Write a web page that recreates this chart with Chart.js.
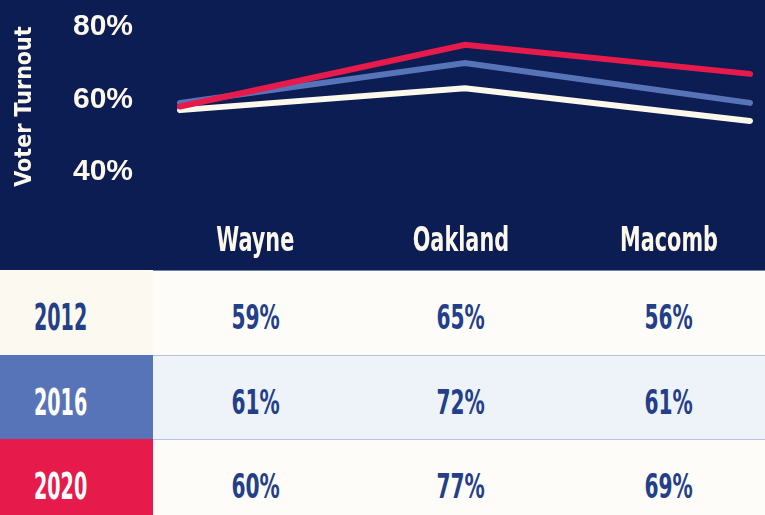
<!DOCTYPE html>
<html>
<head>
<meta charset="utf-8">
<script src="https://cdn.jsdelivr.net/npm/chart.js@4/dist/chart.umd.min.js"></script>
<style>
  html, body { margin: 0; padding: 0; background: #fdfcf8; }
  #wrap { position: relative; width: 765px; height: 515px; overflow: hidden;
          font-family: 'DejaVu Sans Condensed', 'Liberation Sans', sans-serif; font-weight: bold; }
  #top { position: absolute; left: 0; top: 0; width: 765px; height: 270px; background: #0c1d53; }
  #top canvas { position: absolute; left: 0; top: 0; }
  .cell { position: absolute; box-sizing: border-box; }
  .txt { position: absolute; height: 40px; line-height: 40px; text-align: center; white-space: nowrap; }
  .txt span { display: inline-block; transform-origin: center; }
</style>
</head>
<body>
<div id="wrap">
  <div id="top"><canvas id="chart" width="765" height="270"></canvas></div>
  <div id="table"></div>
</div>
<script>
// Turnout by county and election year
const counties = ['Wayne', 'Oakland', 'Macomb'];
const years = ['2012', '2016', '2020'];
const turnout2012 = [59, 65, 56];
const turnout2016 = [61, 72, 61];
const turnout2020 = [60, 77, 69];
const yTickValues = [40, 60, 80];

const series = [turnout2012, turnout2016, turnout2020];
const lineColors = ['#fdf8ec', '#5874b8', '#e71b4b'];
const CREAM = '#fdfcf8';
const TICK_FONT = "'Liberation Sans', Arial, sans-serif";
const COND_FONT = "'DejaVu Sans Condensed', 'Liberation Sans', sans-serif";

new Chart(document.getElementById('chart'), {
  type: 'line',
  data: {
    labels: counties,
    datasets: years.map((y, i) => ({
      label: y,
      data: series[i],
      borderColor: lineColors[i],
      borderWidth: 6,
      borderCapStyle: 'round',
      pointRadius: 0,
      fill: false,
      tension: 0,
      order: years.length - i
    }))
  },
  options: {
    responsive: false,
    animation: false,
    events: [],
    layout: { padding: { top: 34, bottom: 91, left: 0, right: 15 } },
    plugins: { legend: { display: false }, tooltip: { enabled: false } },
    scales: {
      x: { display: false, offset: false },
      y: {
        min: 40, max: 80,
        afterBuildTicks: s => { s.ticks = yTickValues.map(v => ({ value: v })); },
        afterFit: s => { s.width = 180; },
        grid: { display: false, drawTicks: true, tickLength: 40 },
        border: { display: false },
        ticks: {
          color: '#fdf8ec',
          padding: 7,
          labelOffset: -7,
          font: { family: TICK_FONT, size: 30, weight: 'bold' },
          callback: v => v + '%'
        },
        title: {
          display: true,
          text: 'Voter Turnout',
          color: '#fdf8ec',
          padding: { top: 11, bottom: 0 },
          font: { family: COND_FONT, size: 23, weight: 'bold' }
        }
      }
    }
  }
});

// Table beneath the chart
const table = document.getElementById('table');
const rowTops = [270, 355, 439];
const rowHeights = [85, 84, 84];
const colLefts = [153, 358, 563];
const colWidths = [205, 205, 212];
const yearCellBg = ['#fcf9f1', '#5874b8', '#e71b4b'];
const yearTextColor = ['#243f8a', '#ffffff', '#ffffff'];
const valueCellBg = [CREAM, '#eef3fa', CREAM];
const VALUE_COLOR = '#243f8a';

function addBox(x, y, w, h, bg, borderTop) {
  const d = document.createElement('div');
  d.className = 'cell';
  Object.assign(d.style, { left: x + 'px', top: y + 'px', width: w + 'px', height: h + 'px', background: bg });
  if (borderTop) d.style.borderTop = '1px solid ' + borderTop;
  table.appendChild(d);
}
function addText(str, cx, capCenter, w, size, sx, color, parent) {
  const t = document.createElement('div');
  t.className = 'txt';
  Object.assign(t.style, { left: (cx - w / 2) + 'px', top: (capCenter - 20) + 'px', width: w + 'px', fontSize: size + 'px', color });
  const s = document.createElement('span');
  s.textContent = str;
  s.style.transform = 'scaleX(' + sx + ')';
  t.appendChild(s);
  (parent || table).appendChild(t);
}

years.forEach((yr, r) => {
  const top = rowTops[r], h = rowHeights[r];
  addBox(0, top, 153, h, yearCellBg[r]);
  addBox(153, top, 612, h, valueCellBg[r], r === 0 ? '#7282ab' : '#b6c3dd');
  addText(yr, 61, top + 47, 120, 38, 0.56, yearTextColor[r]);
  series[r].forEach((v, c) => {
    addText(v + '%', colLefts[c] + colWidths[c] / 2, top + 47, 180, 34, 0.66, VALUE_COLOR);
  });
});

// County headers in the navy band
const topBand = document.getElementById('top');
counties.forEach((name, c) => {
  addText(name, colLefts[c] + colWidths[c] / 2, 239, 180, 34, 0.68, '#fdf8ec', topBand);
});
</script>
</body>
</html>
